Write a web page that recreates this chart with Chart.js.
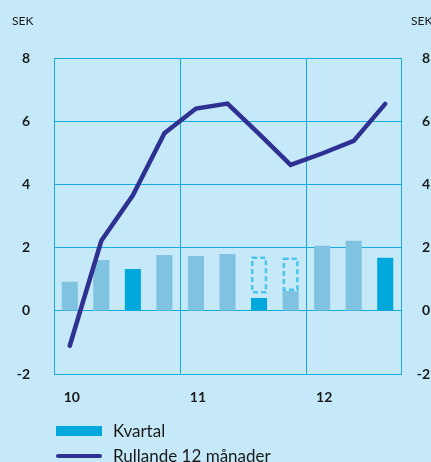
<!DOCTYPE html>
<html>
<head>
<meta charset="utf-8">
<script src="https://cdn.jsdelivr.net/npm/chart.js@4"></script>
<style>
  html, body { margin: 0; padding: 0; background: #c6e9f9; }
  #wrap { position: relative; width: 431px; height: 462px; overflow: hidden; background: #c6e9f9; font-family: Lato, "DejaVu Sans", sans-serif; color: #1a1a1a; }
  #box { position: absolute; left: 0; top: 0; width: 431px; height: 425px; }
  .leg { position: absolute; left: 56px; font-size: 17px; line-height: 20px; white-space: nowrap; }
  .leg .sw { position: absolute; left: 0; width: 46px; }
  .leg .tx { position: absolute; left: 57px; top: 0; }
</style>
</head>
<body>
<div id="wrap">
  <div id="box"><canvas id="c"></canvas></div>
  <div class="leg" style="top:421px"><span class="sw" style="top:5px;height:10px;background:#00a8dc"></span><span class="tx">Kvartal</span></div>
  <div class="leg" style="top:446px"><span class="sw" style="top:8px;height:4px;border-radius:2px;background:#2e3192"></span><span class="tx">Rullande 12 månader</span></div>
</div>
<script>
// Categories: quarters 2010 Q1 .. 2012 Q3
const categories = ['2010 Q1','2010 Q2','2010 Q3','2010 Q4','2011 Q1','2011 Q2','2011 Q3','2011 Q4','2012 Q1','2012 Q2','2012 Q3'];
const yearLabels = ['10','','','','11','','','','12','',''];
// Kvartal (SEK)
const kvartal = [0.92, 1.61, 1.33, 1.77, 1.74, 1.80, 0.41, 0.63, 2.06, 2.22, 1.68];
// Highlighted (darker) quarters
const highlighted = [false, false, true, false, false, false, true, false, false, false, true];
// Dashed outline ranges (low, high) for two quarters
const dashedLow  = [null, null, null, null, null, null, 0.55, 0.63, null, null, null];
const dashedHigh = [null, null, null, null, null, null, 1.72, 1.69, null, null, null];
// Rullande 12 månader (SEK)
const rullande = [-1.10, 2.22, 3.66, 5.62, 6.40, 6.56, 5.60, 4.62, 4.98, 5.38, 6.55];
const yTicks = [-2, 0, 2, 4, 6, 8];

const LIGHT = '#80c3e1', DARK = '#00a8dc', NAVY = '#2e3192', GRID = '#18a9e1', DASH = '#4cc6ef', TXT = '#1a1a1a';

const dashedData = dashedLow.map((lo, i) => lo === null ? null : [lo, dashedHigh[i]]);

const dashedPlugin = {
  id: 'dashedBoxes',
  afterDatasetsDraw(chart) {
    const meta = chart.getDatasetMeta(2);
    const ctx = chart.ctx;
    ctx.save();
    ctx.strokeStyle = DASH;
    ctx.lineWidth = 2.5;
    ctx.setLineDash([5, 3]);
    meta.data.forEach((el, i) => {
      if (dashedData[i] === null) return;
      const p = el.getProps(['x', 'y', 'base', 'width'], true);
      const lw = 1.25;
      const x0 = p.x - p.width / 2 + lw, x1 = p.x + p.width / 2 - lw;
      const y0 = Math.min(p.y, p.base) + lw, y1 = Math.max(p.y, p.base) - lw;
      ctx.strokeRect(x0, y0, x1 - x0, y1 - y0);
    });
    ctx.restore();
  }
};

const unitPlugin = {
  id: 'units',
  afterDraw(chart) {
    const ctx = chart.ctx;
    ctx.save();
    ctx.fillStyle = TXT;
    ctx.font = '12px Lato, "DejaVu Sans", sans-serif';
    ctx.textBaseline = 'middle';
    ctx.textAlign = 'left';
    ctx.fillText('SEK', chart.scales.y.left + 12, 21);
    ctx.fillText('SEK', chart.scales.y2.left + 10, 21);
    ctx.restore();
  }
};

const tickFont = { family: 'Lato, "DejaVu Sans", sans-serif', size: 14, weight: 'bold' };

new Chart(document.getElementById('c'), {
  data: {
    labels: categories,
    datasets: [
      {
        type: 'line', label: 'Rullande 12 månader', data: rullande, order: 0,
        borderColor: NAVY, borderWidth: 4.5, pointRadius: 0, tension: 0,
        borderCapStyle: 'round', borderJoinStyle: 'miter', fill: false
      },
      {
        type: 'bar', label: 'Kvartal', data: kvartal, order: 2, grouped: false,
        backgroundColor: highlighted.map(h => h ? DARK : LIGHT), borderWidth: 0,
        categoryPercentage: 1, barPercentage: 0.51
      },
      {
        type: 'bar', label: 'dashed', data: dashedData, order: 1, grouped: false,
        backgroundColor: 'rgba(0,0,0,0)', borderWidth: 0,
        categoryPercentage: 1, barPercentage: 0.51
      }
    ]
  },
  options: {
    responsive: true, maintainAspectRatio: false, animation: false,
    layout: { padding: { top: 58, left: 0, right: 1, bottom: 4 } },
    plugins: { legend: { display: false }, tooltip: { enabled: false } },
    scales: {
      x: {
        type: 'category', offset: true,
        grid: {
          offset: true, drawTicks: false, lineWidth: 1,
          color: c => (c.index === 4 || c.index === 8) ? GRID : 'rgba(0,0,0,0)'
        },
        border: { display: true, color: GRID },
        ticks: {
          autoSkip: false, maxRotation: 0, padding: 15, labelOffset: 2,
          color: TXT, font: tickFont,
          callback: (v, i) => yearLabels[i]
        }
      },
      y: {
        position: 'left', min: -2, max: 8,
        afterBuildTicks: s => { s.ticks = yTicks.map(v => ({ value: v })); },
        afterFit: s => { s.width = 54; },
        grid: { color: GRID, drawTicks: false, lineWidth: 1 },
        border: { display: true, color: GRID },
        ticks: { padding: 24, crossAlign: 'near', color: TXT, font: tickFont }
      },
      y2: {
        position: 'right', min: -2, max: 8,
        afterBuildTicks: s => { s.ticks = yTicks.map(v => ({ value: v })); },
        afterFit: s => { s.width = 29; },
        grid: { display: false, drawTicks: false },
        border: { display: true, color: GRID },
        ticks: { padding: 10, crossAlign: 'far', color: TXT, font: tickFont }
      }
    }
  },
  plugins: [dashedPlugin, unitPlugin]
});
</script>
</body>
</html>
